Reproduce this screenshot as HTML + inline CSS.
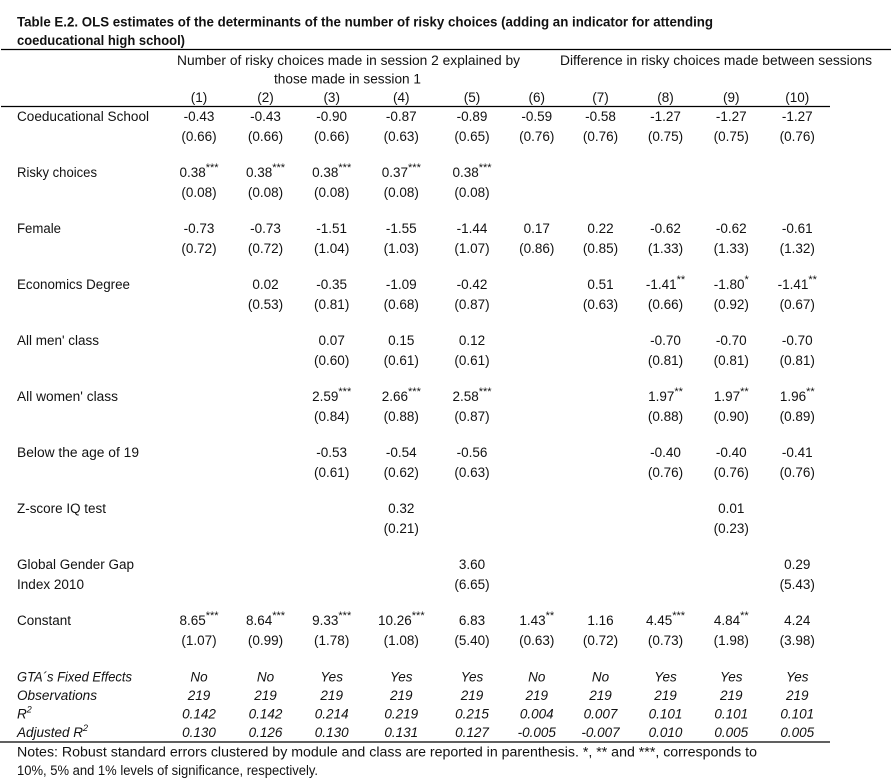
<!DOCTYPE html>
<html><head><meta charset="utf-8"><style>
html,body{margin:0;padding:0;background:#fff;}
svg{display:block;}
text{font-family:"Liberation Sans",Arial,sans-serif;font-size:13.5px;fill:#111;}
.b{font-weight:bold;}
.i{font-style:italic;}
.c{text-anchor:middle;}
.s{font-size:11px;}
</style></head><body>
<svg width="891" height="781" viewBox="0 0 891 781" xmlns="http://www.w3.org/2000/svg">
<rect width="891" height="781" fill="#fff"/>
<text class="b" x="17" y="26.5" textLength="696" lengthAdjust="spacingAndGlyphs">Table E.2. OLS estimates of the determinants of the number of risky choices (adding an indicator for attending</text>
<text class="b" x="17" y="45" textLength="168" lengthAdjust="spacingAndGlyphs">coeducational high school)</text>
<line x1="1" y1="49.5" x2="891" y2="49.5" stroke="#000" stroke-width="1.3"/>
<text x="177" y="65" textLength="343" lengthAdjust="spacingAndGlyphs">Number of risky choices made in session 2 explained by</text>
<text x="274" y="83.5" textLength="147" lengthAdjust="spacingAndGlyphs">those made in session 1</text>
<text x="560" y="65" textLength="312" lengthAdjust="spacingAndGlyphs">Difference in risky choices made between sessions</text>
<g class="c">
<text class="c" x="199" y="102">(1)</text><text class="c" x="265.5" y="102">(2)</text><text class="c" x="331.7" y="102">(3)</text><text class="c" x="401.3" y="102">(4)</text><text class="c" x="472" y="102">(5)</text><text class="c" x="536.8" y="102">(6)</text><text class="c" x="600.5" y="102">(7)</text><text class="c" x="665.5" y="102">(8)</text><text class="c" x="731.3" y="102">(9)</text><text class="c" x="797.3" y="102">(10)</text>
</g>
<line x1="1" y1="106.5" x2="830" y2="106.5" stroke="#000" stroke-width="1.3"/>

<!-- Row labels -->
<text x="17" y="121" textLength="132" lengthAdjust="spacingAndGlyphs">Coeducational School</text>
<text x="17" y="177" textLength="80" lengthAdjust="spacingAndGlyphs">Risky choices</text>
<text x="17" y="233" textLength="44" lengthAdjust="spacingAndGlyphs">Female</text>
<text x="17" y="289" textLength="113" lengthAdjust="spacingAndGlyphs">Economics Degree</text>
<text x="17" y="345" textLength="82" lengthAdjust="spacingAndGlyphs">All men' class</text>
<text x="17" y="401" textLength="101" lengthAdjust="spacingAndGlyphs">All women' class</text>
<text x="17" y="457" textLength="122" lengthAdjust="spacingAndGlyphs">Below the age of 19</text>
<text x="17" y="513" textLength="89" lengthAdjust="spacingAndGlyphs">Z-score IQ test</text>
<text x="17" y="569" textLength="117" lengthAdjust="spacingAndGlyphs">Global Gender Gap</text>
<text x="17" y="589" textLength="67" lengthAdjust="spacingAndGlyphs">Index 2010</text>
<text x="17" y="625" textLength="54" lengthAdjust="spacingAndGlyphs">Constant</text>

<!-- Coeducational School -->
<text class="c" x="199" y="121">-0.43</text><text class="c" x="265.5" y="121">-0.43</text><text class="c" x="331.7" y="121">-0.90</text><text class="c" x="401.3" y="121">-0.87</text><text class="c" x="472" y="121">-0.89</text><text class="c" x="536.8" y="121">-0.59</text><text class="c" x="600.5" y="121">-0.58</text><text class="c" x="665.5" y="121">-1.27</text><text class="c" x="731.3" y="121">-1.27</text><text class="c" x="797.3" y="121">-1.27</text>
<text class="c" x="199" y="141">(0.66)</text><text class="c" x="265.5" y="141">(0.66)</text><text class="c" x="331.7" y="141">(0.66)</text><text class="c" x="401.3" y="141">(0.63)</text><text class="c" x="472" y="141">(0.65)</text><text class="c" x="536.8" y="141">(0.76)</text><text class="c" x="600.5" y="141">(0.76)</text><text class="c" x="665.5" y="141">(0.75)</text><text class="c" x="731.3" y="141">(0.75)</text><text class="c" x="797.3" y="141">(0.76)</text>

<!-- Risky choices -->
<text class="c" x="199" y="177">0.38<tspan class="s" dy="-6">***</tspan></text><text class="c" x="265.5" y="177">0.38<tspan class="s" dy="-6">***</tspan></text><text class="c" x="331.7" y="177">0.38<tspan class="s" dy="-6">***</tspan></text><text class="c" x="401.3" y="177">0.37<tspan class="s" dy="-6">***</tspan></text><text class="c" x="472" y="177">0.38<tspan class="s" dy="-6">***</tspan></text>
<text class="c" x="199" y="197">(0.08)</text><text class="c" x="265.5" y="197">(0.08)</text><text class="c" x="331.7" y="197">(0.08)</text><text class="c" x="401.3" y="197">(0.08)</text><text class="c" x="472" y="197">(0.08)</text>

<!-- Female -->
<text class="c" x="199" y="233">-0.73</text><text class="c" x="265.5" y="233">-0.73</text><text class="c" x="331.7" y="233">-1.51</text><text class="c" x="401.3" y="233">-1.55</text><text class="c" x="472" y="233">-1.44</text><text class="c" x="536.8" y="233">0.17</text><text class="c" x="600.5" y="233">0.22</text><text class="c" x="665.5" y="233">-0.62</text><text class="c" x="731.3" y="233">-0.62</text><text class="c" x="797.3" y="233">-0.61</text>
<text class="c" x="199" y="253">(0.72)</text><text class="c" x="265.5" y="253">(0.72)</text><text class="c" x="331.7" y="253">(1.04)</text><text class="c" x="401.3" y="253">(1.03)</text><text class="c" x="472" y="253">(1.07)</text><text class="c" x="536.8" y="253">(0.86)</text><text class="c" x="600.5" y="253">(0.85)</text><text class="c" x="665.5" y="253">(1.33)</text><text class="c" x="731.3" y="253">(1.33)</text><text class="c" x="797.3" y="253">(1.32)</text>

<!-- Economics Degree -->
<text class="c" x="265.5" y="289">0.02</text><text class="c" x="331.7" y="289">-0.35</text><text class="c" x="401.3" y="289">-1.09</text><text class="c" x="472" y="289">-0.42</text><text class="c" x="600.5" y="289">0.51</text><text class="c" x="665.5" y="289">-1.41<tspan class="s" dy="-6">**</tspan></text><text class="c" x="731.3" y="289">-1.80<tspan class="s" dy="-6">*</tspan></text><text class="c" x="797.3" y="289">-1.41<tspan class="s" dy="-6">**</tspan></text>
<text class="c" x="265.5" y="309">(0.53)</text><text class="c" x="331.7" y="309">(0.81)</text><text class="c" x="401.3" y="309">(0.68)</text><text class="c" x="472" y="309">(0.87)</text><text class="c" x="600.5" y="309">(0.63)</text><text class="c" x="665.5" y="309">(0.66)</text><text class="c" x="731.3" y="309">(0.92)</text><text class="c" x="797.3" y="309">(0.67)</text>

<!-- All men' class -->
<text class="c" x="331.7" y="345">0.07</text><text class="c" x="401.3" y="345">0.15</text><text class="c" x="472" y="345">0.12</text><text class="c" x="665.5" y="345">-0.70</text><text class="c" x="731.3" y="345">-0.70</text><text class="c" x="797.3" y="345">-0.70</text>
<text class="c" x="331.7" y="365">(0.60)</text><text class="c" x="401.3" y="365">(0.61)</text><text class="c" x="472" y="365">(0.61)</text><text class="c" x="665.5" y="365">(0.81)</text><text class="c" x="731.3" y="365">(0.81)</text><text class="c" x="797.3" y="365">(0.81)</text>

<!-- All women' class -->
<text class="c" x="331.7" y="401">2.59<tspan class="s" dy="-6">***</tspan></text><text class="c" x="401.3" y="401">2.66<tspan class="s" dy="-6">***</tspan></text><text class="c" x="472" y="401">2.58<tspan class="s" dy="-6">***</tspan></text><text class="c" x="665.5" y="401">1.97<tspan class="s" dy="-6">**</tspan></text><text class="c" x="731.3" y="401">1.97<tspan class="s" dy="-6">**</tspan></text><text class="c" x="797.3" y="401">1.96<tspan class="s" dy="-6">**</tspan></text>
<text class="c" x="331.7" y="421">(0.84)</text><text class="c" x="401.3" y="421">(0.88)</text><text class="c" x="472" y="421">(0.87)</text><text class="c" x="665.5" y="421">(0.88)</text><text class="c" x="731.3" y="421">(0.90)</text><text class="c" x="797.3" y="421">(0.89)</text>

<!-- Below the age of 19 -->
<text class="c" x="331.7" y="457">-0.53</text><text class="c" x="401.3" y="457">-0.54</text><text class="c" x="472" y="457">-0.56</text><text class="c" x="665.5" y="457">-0.40</text><text class="c" x="731.3" y="457">-0.40</text><text class="c" x="797.3" y="457">-0.41</text>
<text class="c" x="331.7" y="477">(0.61)</text><text class="c" x="401.3" y="477">(0.62)</text><text class="c" x="472" y="477">(0.63)</text><text class="c" x="665.5" y="477">(0.76)</text><text class="c" x="731.3" y="477">(0.76)</text><text class="c" x="797.3" y="477">(0.76)</text>

<!-- Z-score -->
<text class="c" x="401.3" y="513">0.32</text><text class="c" x="731.3" y="513">0.01</text>
<text class="c" x="401.3" y="533">(0.21)</text><text class="c" x="731.3" y="533">(0.23)</text>

<!-- Global Gender Gap -->
<text class="c" x="472" y="569">3.60</text><text class="c" x="797.3" y="569">0.29</text>
<text class="c" x="472" y="589">(6.65)</text><text class="c" x="797.3" y="589">(5.43)</text>

<!-- Constant -->
<text class="c" x="199" y="625">8.65<tspan class="s" dy="-6">***</tspan></text><text class="c" x="265.5" y="625">8.64<tspan class="s" dy="-6">***</tspan></text><text class="c" x="331.7" y="625">9.33<tspan class="s" dy="-6">***</tspan></text><text class="c" x="401.3" y="625">10.26<tspan class="s" dy="-6">***</tspan></text><text class="c" x="472" y="625">6.83</text><text class="c" x="536.8" y="625">1.43<tspan class="s" dy="-6">**</tspan></text><text class="c" x="600.5" y="625">1.16</text><text class="c" x="665.5" y="625">4.45<tspan class="s" dy="-6">***</tspan></text><text class="c" x="731.3" y="625">4.84<tspan class="s" dy="-6">**</tspan></text><text class="c" x="797.3" y="625">4.24</text>
<text class="c" x="199" y="645">(1.07)</text><text class="c" x="265.5" y="645">(0.99)</text><text class="c" x="331.7" y="645">(1.78)</text><text class="c" x="401.3" y="645">(1.08)</text><text class="c" x="472" y="645">(5.40)</text><text class="c" x="536.8" y="645">(0.63)</text><text class="c" x="600.5" y="645">(0.72)</text><text class="c" x="665.5" y="645">(0.73)</text><text class="c" x="731.3" y="645">(1.98)</text><text class="c" x="797.3" y="645">(3.98)</text>

<!-- Bottom italic rows -->
<g class="i">
<text class="i" x="17" y="681.5" textLength="115" lengthAdjust="spacingAndGlyphs">GTA´s Fixed Effects</text>
<text class="i" x="17" y="700" textLength="80" lengthAdjust="spacingAndGlyphs">Observations</text>
<text class="i" x="17" y="718.5">R<tspan font-size="9" dy="-6">2</tspan></text>
<text class="i" x="17" y="737">Adjusted R<tspan font-size="9" dy="-6">2</tspan></text>

<text class="i c" x="199" y="681.5">No</text><text class="i c" x="265.5" y="681.5">No</text><text class="i c" x="331.7" y="681.5">Yes</text><text class="i c" x="401.3" y="681.5">Yes</text><text class="i c" x="472" y="681.5">Yes</text><text class="i c" x="536.8" y="681.5">No</text><text class="i c" x="600.5" y="681.5">No</text><text class="i c" x="665.5" y="681.5">Yes</text><text class="i c" x="731.3" y="681.5">Yes</text><text class="i c" x="797.3" y="681.5">Yes</text>
<text class="i c" x="199" y="700">219</text><text class="i c" x="265.5" y="700">219</text><text class="i c" x="331.7" y="700">219</text><text class="i c" x="401.3" y="700">219</text><text class="i c" x="472" y="700">219</text><text class="i c" x="536.8" y="700">219</text><text class="i c" x="600.5" y="700">219</text><text class="i c" x="665.5" y="700">219</text><text class="i c" x="731.3" y="700">219</text><text class="i c" x="797.3" y="700">219</text>
<text class="i c" x="199" y="718.5">0.142</text><text class="i c" x="265.5" y="718.5">0.142</text><text class="i c" x="331.7" y="718.5">0.214</text><text class="i c" x="401.3" y="718.5">0.219</text><text class="i c" x="472" y="718.5">0.215</text><text class="i c" x="536.8" y="718.5">0.004</text><text class="i c" x="600.5" y="718.5">0.007</text><text class="i c" x="665.5" y="718.5">0.101</text><text class="i c" x="731.3" y="718.5">0.101</text><text class="i c" x="797.3" y="718.5">0.101</text>
<text class="i c" x="199" y="737">0.130</text><text class="i c" x="265.5" y="737">0.126</text><text class="i c" x="331.7" y="737">0.130</text><text class="i c" x="401.3" y="737">0.131</text><text class="i c" x="472" y="737">0.127</text><text class="i c" x="536.8" y="737">-0.005</text><text class="i c" x="600.5" y="737">-0.007</text><text class="i c" x="665.5" y="737">0.010</text><text class="i c" x="731.3" y="737">0.005</text><text class="i c" x="797.3" y="737">0.005</text>
</g>
<line x1="0" y1="742" x2="830" y2="742" stroke="#000" stroke-width="1.3"/>
<text x="17" y="756.5" textLength="740" lengthAdjust="spacingAndGlyphs">Notes: Robust standard errors clustered by module and class are reported in parenthesis. *, ** and ***, corresponds to</text>
<text x="17" y="775" textLength="301" lengthAdjust="spacingAndGlyphs">10%, 5% and 1% levels of significance, respectively.</text>
</svg>
</body></html>
